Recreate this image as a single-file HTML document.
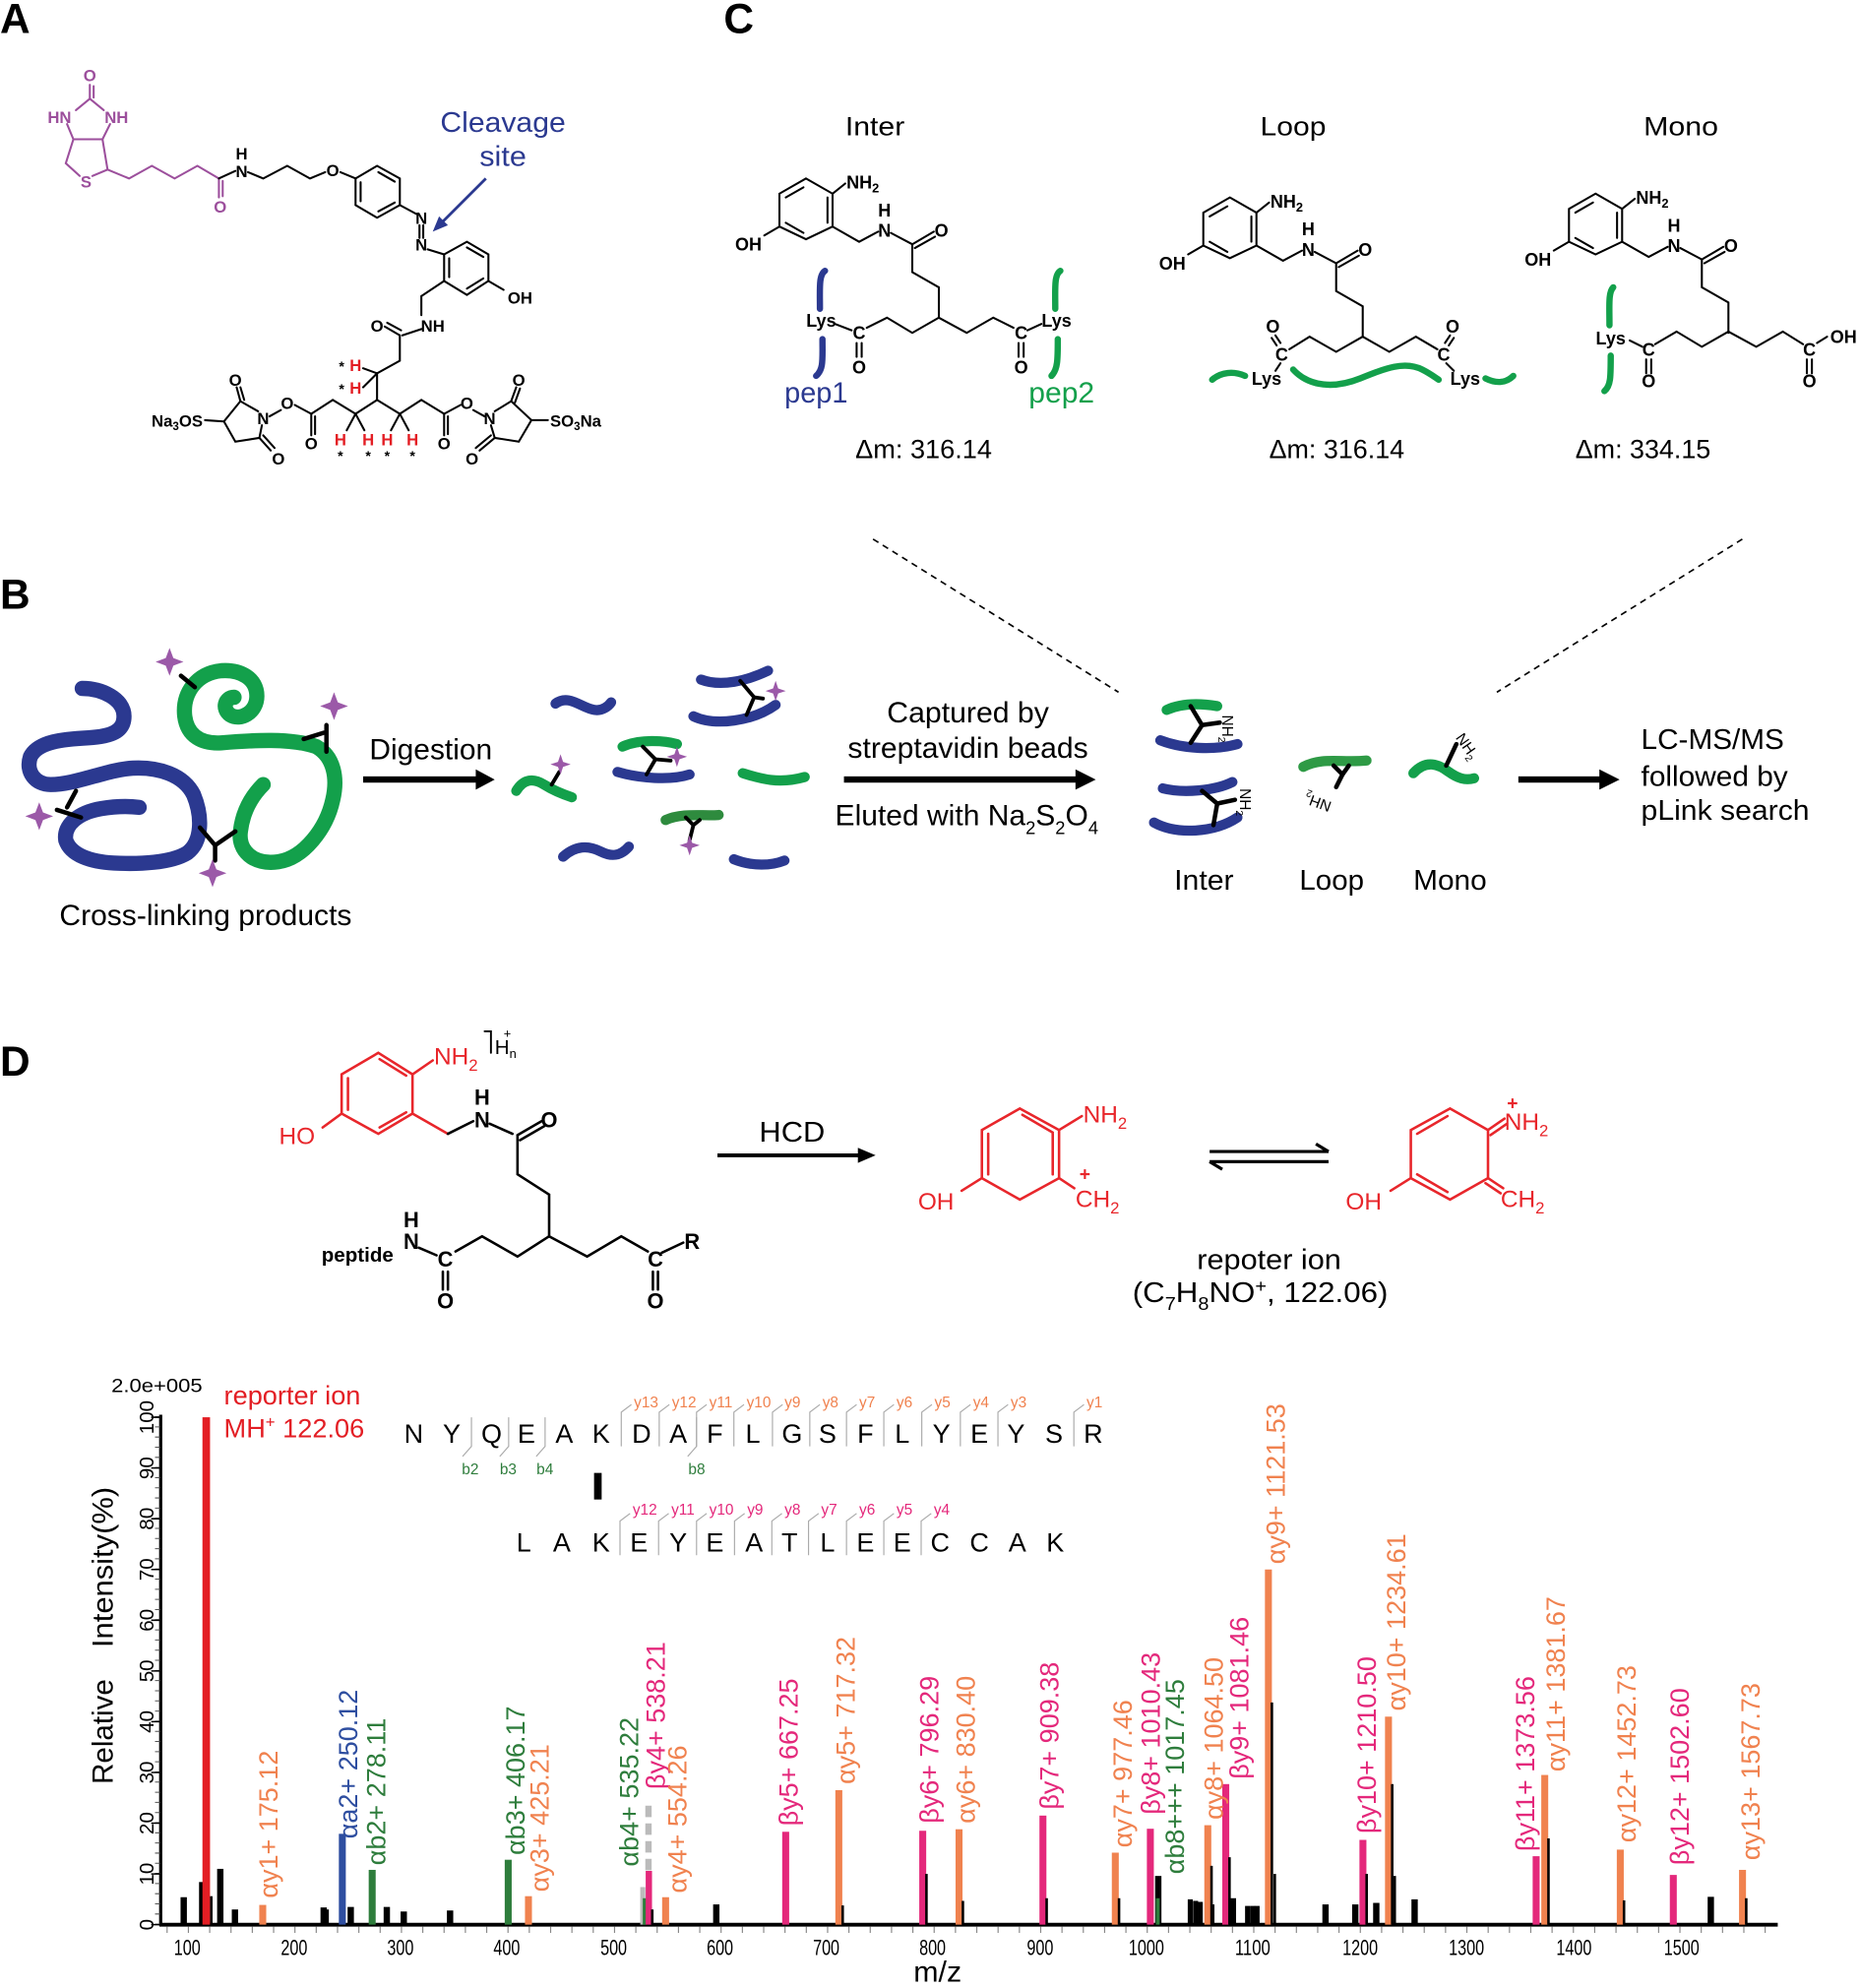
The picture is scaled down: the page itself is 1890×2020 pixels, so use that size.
<!DOCTYPE html>
<html><head><meta charset="utf-8"><style>html,body{margin:0;padding:0;background:#fff}svg{display:block}</style></head><body>
<svg xmlns="http://www.w3.org/2000/svg" width="1890" height="2020" viewBox="0 0 1470 1571" font-family="'Liberation Sans', Arial, sans-serif">
<rect width="1470" height="1571" fill="#fff"/>

<!-- Panel labels -->
<g font-weight="bold" font-size="33" fill="#000">
<text x="0" y="26">A</text>
<text x="572" y="26">C</text>
<text x="0" y="481">B</text>
<text x="0" y="850">D</text>
</g>

<!-- ================= PANEL A ================= -->
<g fill="none" stroke-width="1.6" stroke-linecap="round">
<g stroke="#9c4f9c">
<line x1="71" y1="67" x2="71" y2="78"/><line x1="74" y1="68" x2="74" y2="77"/>
<line x1="71" y1="78" x2="60" y2="87"/><line x1="71" y1="78" x2="82" y2="87"/>
<line x1="53" y1="98" x2="58" y2="110"/><line x1="87" y1="98" x2="81" y2="110"/>
<line x1="58" y1="110" x2="81" y2="110"/>
<polyline points="58,110 52,129 63,139"/><polyline points="73,139 85,134 81,110"/>
<polyline points="85,134 102,141 120,131 138,141 156,131 173,141"/>
<line x1="173" y1="141" x2="173" y2="156"/><line x1="176" y1="143" x2="176" y2="155"/>
</g>
<g stroke="#000">
<line x1="173" y1="141" x2="186" y2="135"/>
<polyline points="196,136 208,141 227,131 245,141 257,136"/>
<line x1="269" y1="136" x2="281" y2="141"/>
<polygon points="281,141 298,131 316,141 316,162 298,172 281,162"/>
<line x1="299" y1="136" x2="312" y2="143.5"/><line x1="312" y1="160" x2="299" y2="167"/><line x1="285" y1="159" x2="285" y2="144"/>
<line x1="316" y1="162" x2="329" y2="169"/>
<line x1="331.5" y1="178" x2="331.5" y2="188"/><line x1="334.5" y1="178" x2="334.5" y2="188"/>
<line x1="338" y1="197" x2="351" y2="201"/>
<polygon points="351,201 369,191 386,201 386,222 369,233 351,222"/>
<line x1="369" y1="195.5" x2="382" y2="203"/><line x1="382" y1="220" x2="369" y2="228"/><line x1="355" y1="219" x2="355" y2="204"/>
<line x1="386" y1="222" x2="398" y2="229"/>
<polyline points="351,222 333,234 333,249"/>
<line x1="333" y1="260" x2="318" y2="265"/>
<line x1="316" y1="265" x2="304" y2="258"/><line x1="317" y1="261" x2="306" y2="255"/>
<polyline points="316,265 316,285 298,295 298,316"/>
<line x1="298" y1="295" x2="287" y2="291"/><line x1="298" y1="295" x2="287" y2="306"/>
<polyline points="298,316 281,327 263,316 246,327"/>
<line x1="246" y1="327" x2="246" y2="344"/><line x1="249" y1="329" x2="249" y2="343"/>
<line x1="246" y1="327" x2="233" y2="320"/><line x1="222" y1="324" x2="213" y2="329"/>
<line x1="281" y1="327" x2="274" y2="340"/><line x1="281" y1="327" x2="288" y2="340"/>
<polyline points="298,316 316,327 333,316 351,327"/>
<line x1="316" y1="327" x2="309" y2="340"/><line x1="316" y1="327" x2="323" y2="340"/>
<line x1="351" y1="327" x2="351" y2="344"/><line x1="354" y1="329" x2="354" y2="343"/>
<line x1="351" y1="327" x2="364" y2="320"/><line x1="374" y1="324" x2="383" y2="329"/>
<polyline points="204,325 190,317 177,333 186,349 205,346 207,336"/>
<line x1="190" y1="317" x2="187" y2="306"/><line x1="193" y1="316" x2="190" y2="306"/>
<line x1="205" y1="346" x2="214" y2="356"/><line x1="208" y1="344" x2="217" y2="354"/>
<line x1="177" y1="333" x2="162" y2="332"/>
<polyline points="391,325 404,317 420,332 410,349 391,346 388,336"/>
<line x1="404" y1="317" x2="408" y2="306"/><line x1="407" y1="318" x2="411" y2="307"/>
<line x1="391" y1="346" x2="379" y2="356"/><line x1="388" y1="344" x2="376" y2="354"/>
<line x1="420" y1="332" x2="433" y2="332"/>
</g>
</g>
<g font-weight="bold" font-size="13" text-anchor="middle">
<g fill="#9c4f9c">
<text x="71" y="64">O</text><text x="47" y="97">HN</text><text x="92" y="97">NH</text>
<text x="68" y="148">S</text><text x="174" y="168">O</text>
</g>
<g fill="#000">
<text x="191" y="126">H</text><text x="191" y="140">N</text><text x="263" y="139">O</text>
<text x="333" y="177">N</text><text x="333" y="198">N</text>
<text x="411" y="240">OH</text><text x="342" y="262">NH</text><text x="298" y="262">O</text>
<text x="246" y="355">O</text><text x="227" y="323">O</text><text x="208" y="335">N</text>
<text x="186" y="305">O</text><text x="220" y="367">O</text>
<text x="351" y="355">O</text><text x="369" y="323">O</text><text x="387" y="335">N</text>
<text x="410" y="305">O</text><text x="373" y="367">O</text>
<text x="140" y="337">Na<tspan font-size="9" dy="3">3</tspan><tspan dy="-3">OS</tspan></text>
<text x="455" y="337">SO<tspan font-size="9" dy="3">3</tspan><tspan dy="-3">Na</tspan></text>
<text x="270" y="293" font-size="11">*</text><text x="270" y="311" font-size="11">*</text>
<text x="269" y="364" font-size="11">*</text><text x="291" y="364" font-size="11">*</text>
<text x="306" y="364" font-size="11">*</text><text x="326" y="364" font-size="11">*</text>
</g>
<g fill="#e31e24">
<text x="281" y="293">H</text><text x="281" y="311">H</text>
<text x="269" y="352">H</text><text x="291" y="352">H</text><text x="306" y="352">H</text><text x="326" y="352">H</text>
</g>
</g>
<line x1="384" y1="141" x2="349" y2="176" stroke="#2b3990" stroke-width="2.2"/>
<polygon points="342,183 354,178 347,171" fill="#2b3990"/>
<g fill="#2b3990" font-size="22">
<text x="348" y="104" textLength="99" lengthAdjust="spacingAndGlyphs">Cleavage</text>
<text x="379" y="131" textLength="37" lengthAdjust="spacingAndGlyphs">site</text>
</g>

<!-- ================= PANEL C ================= -->
<g font-size="21" fill="#000">
<text x="668" y="107" textLength="47" lengthAdjust="spacingAndGlyphs">Inter</text>
<text x="996" y="107" textLength="52" lengthAdjust="spacingAndGlyphs">Loop</text>
<text x="1299" y="107" textLength="59" lengthAdjust="spacingAndGlyphs">Mono</text>
<text x="676" y="362" textLength="108" lengthAdjust="spacingAndGlyphs">Δm: 316.14</text>
<text x="1003" y="362" textLength="107" lengthAdjust="spacingAndGlyphs">Δm: 316.14</text>
<text x="1245" y="362" textLength="107" lengthAdjust="spacingAndGlyphs">Δm: 334.15</text>
</g>

<g transform="translate(637,141)">
<g fill="none" stroke="#000" stroke-width="1.6" stroke-linecap="round">
<polygon points="0,0 21,12 21,38 0,48 -21,38 -21,12"/>
<line x1="-16" y1="15" x2="-2" y2="7"/><line x1="17" y1="15" x2="17" y2="35"/><line x1="-16" y1="35" x2="-2" y2="43"/>
<line x1="21" y1="12" x2="31" y2="4"/><line x1="-21" y1="38" x2="-33" y2="45"/>
<polyline points="21,38 42,50 57,42"/><line x1="67" y1="43" x2="84" y2="52"/>
<line x1="84" y1="52" x2="101" y2="42"/><line x1="86" y1="55" x2="102" y2="46"/>
<polyline points="84,52 84,74 105,86 105,110"/>
</g>
<g font-weight="bold" font-size="14" fill="#000">
<text x="32" y="8">NH<tspan font-size="10" dy="3">2</tspan></text>
<text x="-35" y="57" text-anchor="end">OH</text>
<text x="62" y="30" text-anchor="middle">H</text><text x="62" y="46" text-anchor="middle">N</text>
<text x="107" y="46" text-anchor="middle">O</text>
</g>
</g>
<g transform="translate(972,156)">
<g fill="none" stroke="#000" stroke-width="1.6" stroke-linecap="round">
<polygon points="0,0 21,12 21,38 0,48 -21,38 -21,12"/>
<line x1="-16" y1="15" x2="-2" y2="7"/><line x1="17" y1="15" x2="17" y2="35"/><line x1="-16" y1="35" x2="-2" y2="43"/>
<line x1="21" y1="12" x2="31" y2="4"/><line x1="-21" y1="38" x2="-33" y2="45"/>
<polyline points="21,38 42,50 57,42"/><line x1="67" y1="43" x2="84" y2="52"/>
<line x1="84" y1="52" x2="101" y2="42"/><line x1="86" y1="55" x2="102" y2="46"/>
<polyline points="84,52 84,74 105,86 105,110"/>
</g>
<g font-weight="bold" font-size="14" fill="#000">
<text x="32" y="8">NH<tspan font-size="10" dy="3">2</tspan></text>
<text x="-35" y="57" text-anchor="end">OH</text>
<text x="62" y="30" text-anchor="middle">H</text><text x="62" y="46" text-anchor="middle">N</text>
<text x="107" y="46" text-anchor="middle">O</text>
</g>
</g>
<g transform="translate(1261,153)">
<g fill="none" stroke="#000" stroke-width="1.6" stroke-linecap="round">
<polygon points="0,0 21,12 21,38 0,48 -21,38 -21,12"/>
<line x1="-16" y1="15" x2="-2" y2="7"/><line x1="17" y1="15" x2="17" y2="35"/><line x1="-16" y1="35" x2="-2" y2="43"/>
<line x1="21" y1="12" x2="31" y2="4"/><line x1="-21" y1="38" x2="-33" y2="45"/>
<polyline points="21,38 42,50 57,42"/><line x1="67" y1="43" x2="84" y2="52"/>
<line x1="84" y1="52" x2="101" y2="42"/><line x1="86" y1="55" x2="102" y2="46"/>
<polyline points="84,52 84,74 105,86 105,110"/>
</g>
<g font-weight="bold" font-size="14" fill="#000">
<text x="32" y="8">NH<tspan font-size="10" dy="3">2</tspan></text>
<text x="-35" y="57" text-anchor="end">OH</text>
<text x="62" y="30" text-anchor="middle">H</text><text x="62" y="46" text-anchor="middle">N</text>
<text x="107" y="46" text-anchor="middle">O</text>
</g>
</g>

<g fill="none" stroke="#000" stroke-width="1.6" stroke-linecap="round">
<polyline points="742,251 721,263 701,251 685,259"/>
<polyline points="742,251 764,263 785,251 801,259"/>
<line x1="660" y1="256" x2="673" y2="261"/><line x1="823" y1="256" x2="812" y2="261"/>
<line x1="677" y1="271" x2="677" y2="282"/><line x1="681" y1="271" x2="681" y2="282"/>
<line x1="805" y1="271" x2="805" y2="282"/><line x1="809" y1="271" x2="809" y2="282"/>
<polyline points="1077,266 1056,278 1035,266 1019,276"/>
<polyline points="1077,266 1098,278 1119,266 1136,276"/>
<line x1="1009" y1="273" x2="1005" y2="267"/><line x1="1012" y1="271" x2="1008" y2="265"/>
<line x1="1145" y1="273" x2="1149" y2="267"/><line x1="1142" y1="271" x2="1146" y2="265"/>
<line x1="1012" y1="287" x2="1008" y2="293"/><line x1="1143" y1="287" x2="1149" y2="293"/>
<polyline points="1366,262 1345,274 1325,262 1308,272"/>
<polyline points="1366,262 1388,274 1409,262 1425,272"/>
<line x1="1288" y1="269" x2="1298" y2="274"/>
<line x1="1301" y1="284" x2="1301" y2="295"/><line x1="1305" y1="284" x2="1305" y2="295"/>
<line x1="1428" y1="284" x2="1428" y2="295"/><line x1="1432" y1="284" x2="1432" y2="295"/>
<line x1="1436" y1="271" x2="1444" y2="266"/>
</g>
<g font-weight="bold" font-size="14" fill="#000" text-anchor="middle">
<text x="649" y="258">Lys</text><text x="679" y="268">C</text><text x="679" y="295">O</text>
<text x="807" y="268">C</text><text x="807" y="295">O</text><text x="835" y="258">Lys</text>
<text x="1006" y="263">O</text><text x="1013" y="285">C</text><text x="1001" y="304">Lys</text>
<text x="1148" y="263">O</text><text x="1141" y="285">C</text><text x="1158" y="304">Lys</text>
<text x="1273" y="272">Lys</text><text x="1303" y="281">C</text><text x="1303" y="306">O</text>
<text x="1430" y="281">C</text><text x="1430" y="306">O</text><text x="1457" y="271">OH</text>
</g>
<g fill="none" stroke-width="5" stroke-linecap="round">
<path d="M652,214 C647,217 648,228 648,244 M650,268 C650,284 651,292 645,297" stroke="#2b3990"/>
<path d="M838,214 C833,217 834,228 834,244 M836,268 C836,284 836,292 831,297" stroke="#13a04b"/>
<path d="M958,300 C965,294 975,293 984,297" stroke="#13a04b"/>
<path d="M1022,292 C1035,306 1055,307 1075,299 C1095,291 1110,285 1124,292 C1130,295 1134,298 1137,300" stroke="#13a04b"/>
<path d="M1174,299 C1182,303 1190,303 1196,297" stroke="#13a04b"/>
<path d="M1275,227 C1271,231 1272,241 1272,257 M1273,281 C1273,298 1273,305 1268,309" stroke="#13a04b"/>
</g>
<text x="620" y="318" font-size="23" fill="#2b3990" textLength="50" lengthAdjust="spacingAndGlyphs">pep1</text>
<text x="813" y="318" font-size="23" fill="#13a04b" textLength="52" lengthAdjust="spacingAndGlyphs">pep2</text>

<g stroke="#000" stroke-width="1.3" stroke-dasharray="5 4">
<line x1="690" y1="426" x2="884" y2="547"/>
<line x1="1377" y1="426" x2="1183" y2="547"/>
</g>

<!-- ================= PANEL B ================= -->
<g fill="none" stroke-linecap="round">
<path d="M65,544 C80,544 98,552 98,566 C98,578 88,582 70,583 C50,584 30,586 24,598 C20,610 28,620 40,620 C60,620 85,608 105,607 C125,606 145,612 153,628 C160,645 160,665 148,674 C135,682 110,683 90,682 C72,681 56,676 52,664 C50,652 62,642 80,639 C92,637 102,637 110,638" stroke="#2b3990" stroke-width="12"/>
<path d="M185,551 C178,551 175,560 182,565 C190,570 203,563 203,550 C203,536 190,529 175,530 C155,532 144,548 146,566 C148,582 160,588 175,587 C200,585 230,583 250,590 C264,598 267,615 263,632 C258,655 240,678 220,681 C200,684 188,672 190,657 C192,640 200,628 208,620" stroke="#13a04b" stroke-width="12"/>
</g>
<g stroke="#000" stroke-width="3.5" fill="none" stroke-linecap="round">
<line x1="143" y1="534" x2="154" y2="543"/>
<line x1="258" y1="573" x2="258" y2="594"/><line x1="240" y1="584" x2="256" y2="579"/>
<line x1="60" y1="625" x2="53" y2="638"/><line x1="45" y1="640" x2="64" y2="646"/>
<polyline points="158,654 170,668 186,657"/><line x1="170" y1="668" x2="170" y2="680"/>
</g>
<g fill="#9b59a8">
<path d="M134,512 L137,520 L145,523 L137,526 L134,534 L131,526 L123,523 L131,520Z"/>
<path d="M264,547 L267,555 L275,558 L267,561 L264,569 L261,561 L253,558 L261,555Z"/>
<path d="M31,634 L34,642 L42,645 L34,648 L31,656 L28,648 L20,645 L28,642Z"/>
<path d="M168,679 L171,687 L179,690 L171,693 L168,701 L165,693 L157,690 L165,687Z"/>
</g>
<text x="47" y="731" font-size="23" textLength="231" lengthAdjust="spacingAndGlyphs">Cross-linking products</text>
<text x="292" y="600" font-size="23" textLength="97" lengthAdjust="spacingAndGlyphs">Digestion</text>
<line x1="287" y1="616" x2="378" y2="616" stroke="#000" stroke-width="5"/>
<polygon points="376,608 391,616 376,624" fill="#000"/>

<g fill="none" stroke-linecap="round" stroke-width="8">
<path d="M439,556 C450,548 460,560 470,561 C476,562 481,558 483,555" stroke="#2b3990"/>
<path d="M554,537 C570,543 590,538 607,530" stroke="#2b3990"/>
<path d="M548,566 C565,574 595,570 613,557" stroke="#2b3990"/>
<path d="M492,590 C505,584 525,585 535,588" stroke="#13a04b"/>
<path d="M488,610 C505,615 530,617 545,612" stroke="#2b3990"/>
<path d="M408,625 C414,615 422,615 430,620 C438,625 446,628 452,630" stroke="#13a04b"/>
<path d="M587,611 C600,615 615,620 636,614" stroke="#13a04b"/>
<path d="M526,648 C540,642 555,645 568,644" stroke="#2e8b3e"/>
<path d="M445,677 C455,668 465,668 475,673 C483,677 490,677 497,669" stroke="#2b3990"/>
<path d="M580,679 C595,685 610,684 620,680" stroke="#2b3990"/>
</g>
<g stroke="#000" stroke-width="3" fill="none" stroke-linecap="round">
<polyline points="585,538 596,551 590,565"/><line x1="596" y1="551" x2="603" y2="552"/>
<polyline points="508,590 518,600 511,612"/><line x1="518" y1="600" x2="530" y2="601"/>
<line x1="436" y1="620" x2="442" y2="610"/>
<polyline points="542,646 548,652 545,664"/><line x1="548" y1="652" x2="553" y2="648"/>
</g>
<g fill="#9b59a8">
<path d="M613,538 L615,544 L621,546 L615,548 L613,554 L611,548 L605,546 L611,544Z"/>
<path d="M535,590 L537,596 L543,598 L537,600 L535,606 L533,600 L527,598 L533,596Z"/>
<path d="M443,596 L445,602 L451,604 L445,606 L443,612 L441,606 L435,604 L441,602Z"/>
<path d="M545,660 L547,666 L553,668 L547,670 L545,676 L543,670 L537,668 L543,666Z"/>
</g>

<g font-size="23">
<text x="701" y="571" textLength="128" lengthAdjust="spacingAndGlyphs">Captured by</text>
<text x="670" y="599" textLength="190" lengthAdjust="spacingAndGlyphs">streptavidin beads</text>
<text x="660" y="652" textLength="208" lengthAdjust="spacingAndGlyphs">Eluted with Na<tspan font-size="14" dy="7">2</tspan><tspan dy="-7">S</tspan><tspan font-size="14" dy="7">2</tspan><tspan dy="-7">O</tspan><tspan font-size="14" dy="7">4</tspan></text>
</g>
<line x1="667" y1="616" x2="852" y2="616" stroke="#000" stroke-width="5"/>
<polygon points="850,608 866,616 850,624" fill="#000"/>

<g fill="none" stroke-linecap="round" stroke-width="8">
<path d="M922,561 C935,555 950,556 962,558" stroke="#13a04b"/>
<path d="M917,585 C935,592 960,593 978,588" stroke="#2b3990"/>
<path d="M919,623 C935,627 960,625 974,618" stroke="#2b3990"/>
<path d="M912,650 C930,660 960,658 978,646" stroke="#2b3990"/>
<path d="M1030,606 C1045,598 1060,603 1080,601" stroke="#2e9a45"/>
<path d="M1117,611 C1127,600 1137,604 1145,610 C1152,615 1158,617 1165,615" stroke="#13a04b"/>
</g>
<g stroke="#000" stroke-width="3.5" fill="none" stroke-linecap="round">
<polyline points="941,558 950,573 941,587"/><line x1="950" y1="573" x2="964" y2="571"/>
<polyline points="950,625 962,635 959,652"/><line x1="962" y1="635" x2="976" y2="632"/>
<polyline points="1054,605 1061,612 1056,622"/><line x1="1061" y1="612" x2="1066" y2="605"/>
<line x1="1143" y1="605" x2="1151" y2="588"/>
</g>
<g font-size="12" fill="#000">
<text transform="translate(966,565) rotate(90)">NH<tspan font-size="8" dy="3">2</tspan></text>
<text transform="translate(980,623) rotate(90)">NH<tspan font-size="8" dy="3">2</tspan></text>
<text transform="translate(1053,634) rotate(200)">NH<tspan font-size="8" dy="3">2</tspan></text>
<text transform="translate(1150,583) rotate(55)">NH<tspan font-size="8" dy="3">2</tspan></text>
</g>
<line x1="1200" y1="616" x2="1266" y2="616" stroke="#000" stroke-width="5"/>
<polygon points="1264,608 1280,616 1264,624" fill="#000"/>
<g font-size="22">
<text x="1297" y="592" textLength="113" lengthAdjust="spacingAndGlyphs">LC-MS/MS</text>
<text x="1297" y="621" textLength="116" lengthAdjust="spacingAndGlyphs">followed by</text>
<text x="1297" y="648" textLength="133" lengthAdjust="spacingAndGlyphs">pLink search</text>
<text x="928" y="703" textLength="47" lengthAdjust="spacingAndGlyphs">Inter</text>
<text x="1027" y="703" textLength="51" lengthAdjust="spacingAndGlyphs">Loop</text>
<text x="1117" y="703" textLength="58" lengthAdjust="spacingAndGlyphs">Mono</text>
</g>

<!-- ================= PANEL D (chem) ================= -->
<g fill="none" stroke-width="2" stroke-linecap="round">
<g stroke="#e8262b">
<polygon points="299,832 326,849 326,880 299,896 270,880 270,849"/>
<line x1="275" y1="852" x2="275" y2="877"/><line x1="300" y1="837" x2="321" y2="850"/><line x1="321" y1="879" x2="300" y2="891"/>
<line x1="326" y1="849" x2="342" y2="838"/>
<line x1="270" y1="880" x2="255" y2="891"/>
<polyline points="326,880 354,896"/>
</g>
<g stroke="#000">
<polyline points="354,896 374,886"/>
<line x1="387" y1="888" x2="405" y2="896"/>
<line x1="409" y1="897" x2="428" y2="886"/><line x1="411" y1="901" x2="430" y2="890"/>
<polyline points="409,897 409,928 434,944 434,977"/>
<polyline points="434,977 409,993 381,977 360,989"/>
<polyline points="434,977 464,993 491,977 512,989"/>
<line x1="350" y1="1005" x2="350" y2="1019"/><line x1="354" y1="1005" x2="354" y2="1019"/>
<line x1="516" y1="1005" x2="516" y2="1019"/><line x1="520" y1="1005" x2="520" y2="1019"/>
<line x1="331" y1="986" x2="345" y2="992"/>
<line x1="523" y1="990" x2="540" y2="982"/>
<polyline points="383,815 388,815 388,832" stroke-width="1.5"/>
</g>
<g stroke="#e8262b">
<polygon points="806,876 837,893 837,931 806,948 776,931 776,893"/>
<line x1="781" y1="896" x2="781" y2="928"/><line x1="832" y1="896" x2="832" y2="928"/><line x1="808" y1="881" x2="832" y2="895"/>
<line x1="837" y1="893" x2="855" y2="882"/><line x1="837" y1="931" x2="849" y2="939"/><line x1="776" y1="931" x2="760" y2="941"/>
<polygon points="1146,876 1176,893 1176,931 1146,948 1115,931 1115,893"/>
<line x1="1120" y1="896" x2="1144" y2="882"/><line x1="1120" y1="928" x2="1144" y2="942"/>
<line x1="1176" y1="893" x2="1189" y2="884"/><line x1="1178" y1="897" x2="1191" y2="888"/>
<line x1="1176" y1="931" x2="1188" y2="939"/><line x1="1174" y1="935" x2="1186" y2="943"/>
<line x1="1115" y1="931" x2="1099" y2="941"/>
</g>
</g>
<g font-size="19" fill="#e8262b">
<text x="343" y="841">NH<tspan font-size="13" dy="5">2</tspan></text>
<text x="249" y="904" text-anchor="end">HO</text>
<text x="856" y="887">NH<tspan font-size="13" dy="5">2</tspan></text>
<text x="850" y="954">CH<tspan font-size="13" dy="5">2</tspan></text>
<text x="853" y="933" font-size="15" font-weight="bold">+</text>
<text x="754" y="956" text-anchor="end">OH</text>
<text x="1189" y="893">NH<tspan font-size="13" dy="5">2</tspan></text>
<text x="1191" y="877" font-size="15" font-weight="bold">+</text>
<text x="1186" y="954">CH<tspan font-size="13" dy="5">2</tspan></text>
<text x="1092" y="956" text-anchor="end">OH</text>
</g>
<g fill="#000" font-weight="bold" font-size="17" text-anchor="middle">
<text x="381" y="873">H</text><text x="381" y="891">N</text><text x="434" y="891">O</text>
<text x="352" y="1001">C</text><text x="352" y="1034">O</text>
<text x="325" y="970">H</text><text x="325" y="987">N</text>
<text x="518" y="1001">C</text><text x="518" y="1034">O</text><text x="547" y="987">R</text>
<text x="311" y="997" text-anchor="end" font-size="16">peptide</text>
</g>
<text x="391" y="833" font-size="16">H<tspan font-size="10" dy="3">n</tspan></text>
<text x="398" y="820" font-size="10">+</text>
<text x="600" y="902" font-size="22" textLength="52" lengthAdjust="spacingAndGlyphs">HCD</text>
<line x1="567" y1="913" x2="680" y2="913" stroke="#000" stroke-width="3"/>
<polygon points="678,907 692,913 678,919" fill="#000"/>
<g stroke="#000" stroke-width="2.5" fill="none">
<line x1="956" y1="910" x2="1050" y2="910"/><line x1="1050" y1="910" x2="1040" y2="904"/>
<line x1="956" y1="918" x2="1050" y2="918"/><line x1="956" y1="918" x2="966" y2="924"/>
</g>
<g font-size="22">
<text x="946" y="1003" textLength="114" lengthAdjust="spacingAndGlyphs">repoter ion</text>
<text x="895" y="1029" textLength="202" lengthAdjust="spacingAndGlyphs">(C<tspan font-size="14" dy="6">7</tspan><tspan dy="-6">H</tspan><tspan font-size="14" dy="6">8</tspan><tspan dy="-6">NO</tspan><tspan font-size="14" dy="-8">+</tspan><tspan dy="8">, 122.06)</tspan></text>
</g>

<!-- ================= SPECTRUM ================= -->
<line x1="127" y1="1118" x2="127" y2="1522" stroke="#000" stroke-width="2.5"/>
<line x1="126" y1="1521" x2="1405" y2="1521" stroke="#000" stroke-width="3"/>
<line x1="124.5" y1="1521" x2="124.5" y2="1118" stroke="#555" stroke-width="4" stroke-dasharray="0.8 7.22"/>
<line x1="123" y1="1521.6" x2="123" y2="1118" stroke="#000" stroke-width="7" stroke-dasharray="1.2 38.9"/>
<line x1="131.6" y1="1525" x2="1405" y2="1525" stroke="#888" stroke-width="5" stroke-dasharray="0.9 15.94"/>

<g font-size="16" text-anchor="middle" fill="#000">
<text transform="translate(121.5,1521) rotate(-90)">0</text>
<text transform="translate(121.5,1480.9) rotate(-90)">10</text>
<text transform="translate(121.5,1440.8) rotate(-90)">20</text>
<text transform="translate(121.5,1400.7) rotate(-90)">30</text>
<text transform="translate(121.5,1360.6) rotate(-90)">40</text>
<text transform="translate(121.5,1320.5) rotate(-90)">50</text>
<text transform="translate(121.5,1280.4) rotate(-90)">60</text>
<text transform="translate(121.5,1240.3) rotate(-90)">70</text>
<text transform="translate(121.5,1200.2) rotate(-90)">80</text>
<text transform="translate(121.5,1160.1) rotate(-90)">90</text>
<text transform="translate(121.5,1120) rotate(-90)">100</text>
</g>
<g font-size="17" text-anchor="middle" fill="#000">
<text x="148" y="1545" textLength="21" lengthAdjust="spacingAndGlyphs">100</text>
<text x="232.5" y="1545" textLength="21" lengthAdjust="spacingAndGlyphs">200</text>
<text x="316.5" y="1545" textLength="21" lengthAdjust="spacingAndGlyphs">300</text>
<text x="400.5" y="1545" textLength="21" lengthAdjust="spacingAndGlyphs">400</text>
<text x="485" y="1545" textLength="21" lengthAdjust="spacingAndGlyphs">500</text>
<text x="569" y="1545" textLength="21" lengthAdjust="spacingAndGlyphs">600</text>
<text x="653" y="1545" textLength="21" lengthAdjust="spacingAndGlyphs">700</text>
<text x="737" y="1545" textLength="21" lengthAdjust="spacingAndGlyphs">800</text>
<text x="822" y="1545" textLength="21" lengthAdjust="spacingAndGlyphs">900</text>
<text x="906" y="1545" textLength="28" lengthAdjust="spacingAndGlyphs">1000</text>
<text x="990" y="1545" textLength="28" lengthAdjust="spacingAndGlyphs">1100</text>
<text x="1075" y="1545" textLength="28" lengthAdjust="spacingAndGlyphs">1200</text>
<text x="1159" y="1545" textLength="28" lengthAdjust="spacingAndGlyphs">1300</text>
<text x="1244" y="1545" textLength="28" lengthAdjust="spacingAndGlyphs">1400</text>
<text x="1329" y="1545" textLength="28" lengthAdjust="spacingAndGlyphs">1500</text>
</g>
<text x="722" y="1566" font-size="23" textLength="38" lengthAdjust="spacingAndGlyphs">m/z</text>
<g font-size="23">
<text transform="translate(89,1410) rotate(-90)" textLength="83" lengthAdjust="spacingAndGlyphs">Relative</text>
<text transform="translate(89,1302) rotate(-90)" textLength="127" lengthAdjust="spacingAndGlyphs">Intensity(%)</text>
</g>
<text x="88" y="1100" font-size="15" textLength="72" lengthAdjust="spacingAndGlyphs">2.0e+005</text>
<g fill="#e31e24" font-size="21">
<text x="177" y="1110" textLength="108" lengthAdjust="spacingAndGlyphs">reporter ion</text>
<text x="177" y="1136" textLength="111" lengthAdjust="spacingAndGlyphs">MH<tspan font-size="13" dy="-8">+</tspan><tspan dy="8"> 122.06</tspan></text>
</g>

<g fill="#000">
<rect x="142.7" y="1499.3" width="5" height="21.7"/>
<rect x="157.3" y="1487.3" width="5" height="33.7"/>
<rect x="171.6" y="1476.9" width="5" height="44.1"/>
<rect x="183.2" y="1509" width="5" height="12"/>
<rect x="253.3" y="1507.4" width="5" height="13.6"/>
<rect x="257.4" y="1509" width="2.5" height="12"/>
<rect x="274.7" y="1507" width="5" height="14"/>
<rect x="303.2" y="1507" width="5" height="14"/>
<rect x="316.6" y="1510.6" width="5" height="10.4"/>
<rect x="353.2" y="1509.8" width="5" height="11.2"/>
<rect x="563.6" y="1505" width="5" height="16"/>
<rect x="912.9" y="1482.5" width="5" height="38.5"/>
<rect x="938.7" y="1501" width="4" height="20"/>
<rect x="942.9" y="1502.2" width="4" height="18.8"/>
<rect x="946.6" y="1503" width="4" height="18"/>
<rect x="955.8" y="1505" width="4" height="16"/>
<rect x="971.9" y="1500.1" width="5" height="20.9"/>
<rect x="984" y="1506.2" width="4" height="14.8"/>
<rect x="988" y="1506.2" width="4" height="14.8"/>
<rect x="991.5" y="1506.2" width="4" height="14.8"/>
<rect x="1045.1" y="1505" width="5" height="16"/>
<rect x="1068.6" y="1505" width="5" height="16"/>
<rect x="1085.2" y="1503.8" width="5" height="17.2"/>
<rect x="1115.5" y="1501" width="5" height="20"/>
<rect x="1349.6" y="1499" width="5" height="22"/>
</g>
<rect x="506" y="1491.3" width="4" height="29.7" fill="#bbb"/>
<line x1="512.5" y1="1478" x2="512.5" y2="1423" stroke="#bbb" stroke-width="5" stroke-dasharray="9 5"/>
<rect x="160" y="1120" width="6" height="401" fill="#e31e24"/>
<g fill="#f0824f">
<rect x="204.9" y="1505.4" width="5.5" height="15.6"/>
<rect x="414.9" y="1498.5" width="5.5" height="22.5"/>
<rect x="523.3" y="1499.3" width="5.5" height="21.7"/>
<rect x="660.2" y="1414.7" width="5.5" height="106.3"/>
<rect x="755.2" y="1445.6" width="5.5" height="75.4"/>
<rect x="878.7" y="1464.1" width="5.5" height="56.9"/>
<rect x="951.8" y="1442.4" width="5.5" height="78.6"/>
<rect x="999.7" y="1240.3" width="5.5" height="280.7"/>
<rect x="1094.6" y="1356.6" width="5.5" height="164.4"/>
<rect x="1218.1" y="1402.7" width="5.5" height="118.3"/>
<rect x="1277.8" y="1461.7" width="5.5" height="59.3"/>
<rect x="1374.4" y="1477.7" width="5.5" height="43.3"/>
</g>
<rect x="267.8" y="1449.2" width="5.5" height="71.8" fill="#2e4ea0"/>
<g fill="#2e7d3c">
<rect x="291.4" y="1477.7" width="5.5" height="43.3"/>
<rect x="398.9" y="1469.7" width="5.5" height="51.3"/>
<rect x="508" y="1500.1" width="3" height="20.9"/>
<rect x="913.5" y="1500.1" width="3" height="20.9"/>
</g>
<g fill="#e4287b">
<rect x="510.3" y="1478.5" width="5" height="42.5"/>
<rect x="618.2" y="1447.6" width="5.5" height="73.4"/>
<rect x="726.5" y="1446.8" width="5.5" height="74.2"/>
<rect x="821.5" y="1434.8" width="5.5" height="86.2"/>
<rect x="906.4" y="1445.2" width="5.5" height="75.8"/>
<rect x="966" y="1409.9" width="5.5" height="111.1"/>
<rect x="1074.4" y="1454" width="5.5" height="67"/>
<rect x="1211.3" y="1466.9" width="5.5" height="54.1"/>
<rect x="1319.7" y="1481.7" width="5.5" height="39.3"/>
</g>
<g fill="#000">
<rect x="166" y="1498.5" width="2" height="22.5"/>
<rect x="514.5" y="1509" width="2" height="12"/>
<rect x="665" y="1505.8" width="2" height="15.2"/>
<rect x="731.2" y="1480.9" width="2" height="40.1"/>
<rect x="760" y="1502.2" width="2" height="18.8"/>
<rect x="826.2" y="1500.1" width="2" height="20.9"/>
<rect x="883.4" y="1500.1" width="2" height="20.9"/>
<rect x="956.5" y="1474.5" width="2" height="46.5"/>
<rect x="970.7" y="1467.7" width="2" height="53.3"/>
<rect x="1004.2" y="1345.4" width="2" height="175.6"/>
<rect x="1006.5" y="1480.9" width="2" height="40.1"/>
<rect x="1079.1" y="1480.9" width="2" height="40.1"/>
<rect x="1099.3" y="1409.9" width="2" height="111.1"/>
<rect x="1101.3" y="1482.5" width="2" height="38.5"/>
<rect x="1222.8" y="1452.8" width="2" height="68.2"/>
<rect x="1282.5" y="1501.8" width="2" height="19.2"/>
<rect x="1379.1" y="1500.1" width="2" height="20.9"/>
</g>

<g font-size="21">
<text transform="translate(219.5,1500) rotate(-90)" fill="#f0824f">αy1+ 175.12</text>
<text transform="translate(282.5,1453) rotate(-90)" fill="#2e4ea0">αa2+ 250.12</text>
<text transform="translate(304.5,1474) rotate(-90)" fill="#2e7d3c">αb2+ 278.11</text>
<text transform="translate(414.5,1466) rotate(-90)" fill="#2e7d3c">αb3+ 406.17</text>
<text transform="translate(433.5,1495) rotate(-90)" fill="#f0824f">αy3+ 425.21</text>
<text transform="translate(504.5,1475) rotate(-90)" fill="#2e7d3c">αb4+ 535.22</text>
<text transform="translate(525.5,1414) rotate(-90)" fill="#e4287b">βy4+ 538.21</text>
<text transform="translate(542.5,1496) rotate(-90)" fill="#f0824f">αy4+ 554.26</text>
<text transform="translate(630.5,1443) rotate(-90)" fill="#e4287b">βy5+ 667.25</text>
<text transform="translate(675.5,1410) rotate(-90)" fill="#f0824f">αy5+ 717.32</text>
<text transform="translate(741.5,1441) rotate(-90)" fill="#e4287b">βy6+ 796.29</text>
<text transform="translate(770.5,1441) rotate(-90)" fill="#f0824f">αy6+ 830.40</text>
<text transform="translate(836.5,1430) rotate(-90)" fill="#e4287b">βy7+ 909.38</text>
<text transform="translate(894.5,1460) rotate(-90)" fill="#f0824f">αy7+ 977.46</text>
<text transform="translate(916.5,1434) rotate(-90)" fill="#e4287b">βy8+ 1010.43</text>
<text transform="translate(935.5,1481) rotate(-90)" fill="#2e7d3c">αb8+++ 1017.45</text>
<text transform="translate(966.5,1438) rotate(-90)" fill="#f0824f">αy8+ 1064.50</text>
<text transform="translate(986.5,1406) rotate(-90)" fill="#e4287b">βy9+ 1081.46</text>
<text transform="translate(1015.5,1236) rotate(-90)" fill="#f0824f">αy9+ 1121.53</text>
<text transform="translate(1087.5,1449) rotate(-90)" fill="#e4287b">βy10+ 1210.50</text>
<text transform="translate(1110.5,1352) rotate(-90)" fill="#f0824f">αy10+ 1234.61</text>
<text transform="translate(1212.5,1463) rotate(-90)" fill="#e4287b">βy11+ 1373.56</text>
<text transform="translate(1236.5,1400) rotate(-90)" fill="#f0824f">αy11+ 1381.67</text>
<text transform="translate(1292.5,1456) rotate(-90)" fill="#f0824f">αy12+ 1452.73</text>
<text transform="translate(1334.5,1474) rotate(-90)" fill="#e4287b">βy12+ 1502.60</text>
<text transform="translate(1390.5,1470) rotate(-90)" fill="#f0824f">αy13+ 1567.73</text>
</g>

<g font-size="21" text-anchor="middle" fill="#000">
<text x="327" y="1140">N</text><text x="357" y="1140">Y</text><text x="388.5" y="1140">Q</text>
<text x="416" y="1140">E</text><text x="446" y="1140">A</text><text x="475" y="1140">K</text>
<text x="507" y="1140">D</text><text x="536" y="1140">A</text><text x="565" y="1140">F</text>
<text x="595" y="1140">L</text><text x="626" y="1140">G</text><text x="654" y="1140">S</text>
<text x="684" y="1140">F</text><text x="713" y="1140">L</text><text x="744" y="1140">Y</text>
<text x="774" y="1140">E</text><text x="803" y="1140">Y</text><text x="833" y="1140">S</text>
<text x="864" y="1140">R</text>
<text x="414" y="1226">L</text><text x="444" y="1226">A</text><text x="475" y="1226">K</text>
<text x="505" y="1226">E</text><text x="536" y="1226">Y</text><text x="565" y="1226">E</text>
<text x="596" y="1226">A</text><text x="624" y="1226">T</text><text x="654" y="1226">L</text>
<text x="684" y="1226">E</text><text x="713" y="1226">E</text><text x="743" y="1226">C</text>
<text x="774" y="1226">C</text><text x="804" y="1226">A</text><text x="834" y="1226">K</text>
</g>
<rect x="469.5" y="1164" width="6" height="21" fill="#000"/>
<g stroke="#aaa" stroke-width="0.9" fill="none">
<path d="M491,1143V1116l8,-6 M521,1143V1116l8,-6 M550.5,1143V1116l8,-6 M580,1143V1116l8,-6 M610.5,1143V1116l8,-6 M640,1143V1116l8,-6 M669,1143V1116l8,-6 M698.5,1143V1116l8,-6 M728.5,1143V1116l8,-6 M759,1143V1116l8,-6 M788.7,1143V1116l8,-6 M848.7,1143V1116l8,-6"/>
<path d="M372.6,1120V1143l-7,8 M402,1120V1143l-7,8 M430.8,1120V1143l-7,8 M550.5,1120V1143l-7,8"/>
<path d="M490,1229V1202l8,-6 M520.5,1229V1202l8,-6 M550.5,1229V1202l8,-6 M580.5,1229V1202l8,-6 M610,1229V1202l8,-6 M639,1229V1202l8,-6 M669,1229V1202l8,-6 M698.5,1229V1202l8,-6 M728,1229V1202l8,-6"/>
</g>
<g font-size="12" fill="#f0824f">
<text x="501" y="1112">y13</text><text x="531" y="1112">y12</text><text x="560.5" y="1112">y11</text>
<text x="590" y="1112">y10</text><text x="620" y="1112">y9</text><text x="650" y="1112">y8</text>
<text x="679" y="1112">y7</text><text x="708.5" y="1112">y6</text><text x="738.5" y="1112">y5</text>
<text x="769" y="1112">y4</text><text x="798.7" y="1112">y3</text><text x="858.7" y="1112">y1</text>
</g>
<g font-size="12" fill="#2e7d3c">
<text x="365" y="1165">b2</text><text x="395" y="1165">b3</text><text x="424" y="1165">b4</text><text x="544" y="1165">b8</text>
</g>
<g font-size="12" fill="#e4287b">
<text x="500" y="1197">y12</text><text x="530.5" y="1197">y11</text><text x="560.5" y="1197">y10</text>
<text x="590.5" y="1197">y9</text><text x="620" y="1197">y8</text><text x="649" y="1197">y7</text>
<text x="679" y="1197">y6</text><text x="708.5" y="1197">y5</text><text x="738" y="1197">y4</text>
</g>
</svg>
</body></html>
